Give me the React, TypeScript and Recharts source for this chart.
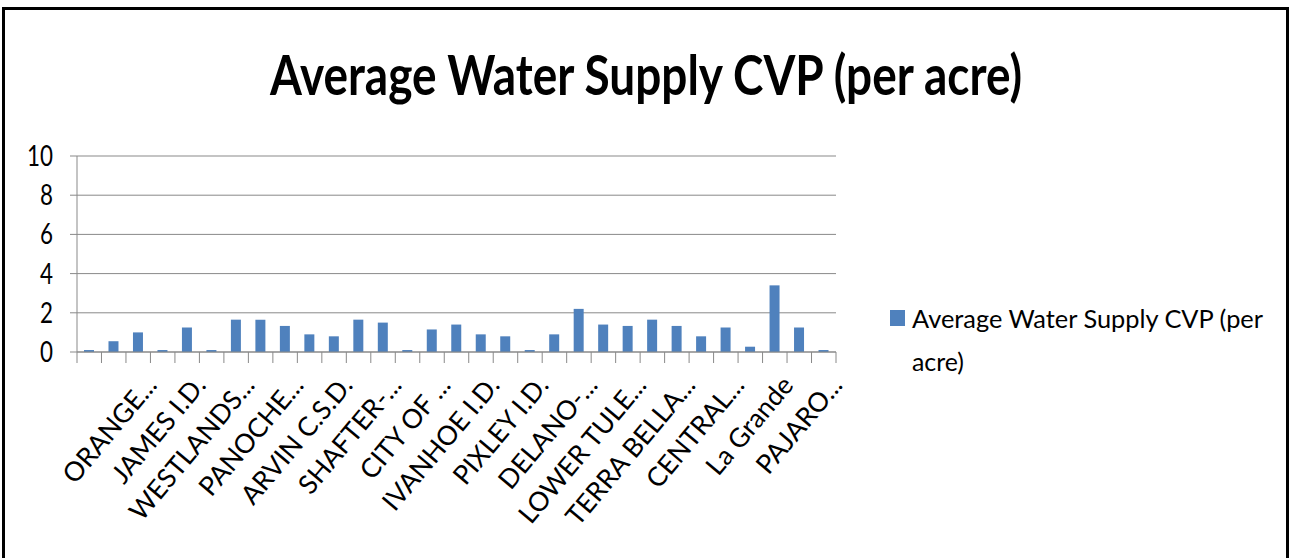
import React from 'react';
import { BarChart, Bar, XAxis, YAxis, CartesianGrid } from 'recharts';

// district labels (only every other category is labelled on the axis)
const districts = [
    '', '', 'ORANGE...', '', 'JAMES I.D.', '', 'WESTLANDS...', '', 'PANOCHE...', '',
    'ARVIN C.S.D.', '', 'SHAFTER-...', '', 'CITY OF ...', '', 'IVANHOE I.D.', '', 'PIXLEY I.D.', '',
    'DELANO-...', '', 'LOWER TULE...', '', 'TERRA BELLA...', '', 'CENTRAL...', '', 'La Grande', '',
    'PAJARO...',
];

const supplyPerAcre = [
    0.1, 0.55, 1.0, 0.1, 1.25, 0.1, 1.65, 1.65, 1.33, 0.9,
    0.8, 1.65, 1.5, 0.1, 1.15, 1.4, 0.9, 0.8, 0.1, 0.9,
    2.2, 1.4, 1.33, 1.65, 1.33, 0.8, 1.25, 0.27, 3.4, 1.25,
    0.1,
];

const yTicks = [0, 2, 4, 6, 8, 10];

const SERIES = 'Average Water Supply CVP (per acre)';
const BAR_COLOR = '#4f81bd';
const GRID = '#898989';

const W = 1291;
const H = 558;
const MARGIN = { top: 156, right: 455, bottom: 56, left: 17 };
const Y_W = 60;
const X_H = 150;
const PLOT_W = W - MARGIN.left - MARGIN.right - Y_W;
const BAND = PLOT_W / districts.length;

const data = districts.map((name, i) => ({ name, value: supplyPerAcre[i] }));

const XTick = (props: any) => {
    const { x, y, payload, index } = props;
    const last = index === districts.length - 1;
    const label = payload.value as string;
    return (
        <g>
            <line x1={x - BAND / 2} x2={x - BAND / 2} y1={y} y2={y + 11} stroke={GRID} />
            {last && <line x1={x + BAND / 2} x2={x + BAND / 2} y1={y} y2={y + 11} stroke={GRID} />}
            {label && (
                <text
                    transform={`translate(${x + 20},${y + 34}) rotate(-50)`}
                    textAnchor="end"
                    fontSize={26.5}
                    fontFamily="Lato, sans-serif"
                    fill="#000"
                >
                    {label}
                </text>
            )}
        </g>
    );
};

const YTick = (props: any) => {
    const { x, y, payload } = props;
    return (
        <text
            transform={`translate(${x},${y + 10}) scale(0.8,1)`}
            textAnchor="end"
            fontSize={28}
            fontFamily="Lato, sans-serif"
            fill="#000"
        >
            {payload.value}
        </text>
    );
};

export default function App() {
    return (
        <div style={{ position: 'absolute', left: 0, top: 0, width: W, height: H, background: '#fff', overflow: 'hidden' }}>
            <div
                style={{
                    position: 'absolute', left: 2, top: 7, width: 1287, height: 600,
                    border: '3px solid #000', boxSizing: 'border-box',
                }}
            />
            <div style={{ position: 'absolute', left: 0, top: 0 }}>
                <BarChart width={W} height={H} data={data} margin={MARGIN}>
                    <CartesianGrid vertical={false} stroke={GRID} />
                    <XAxis
                        dataKey="name"
                        interval={0}
                        height={X_H}
                        tickSize={0}
                        tickMargin={0}
                        tickLine={false}
                        stroke={GRID}
                        tick={<XTick />}
                    />
                    <YAxis
                        width={Y_W}
                        domain={[0, 10]}
                        ticks={yTicks}
                        tickSize={7}
                        tickMargin={17}
                        stroke={GRID}
                        tick={<YTick />}
                    />
                    <Bar dataKey="value" name={SERIES} fill={BAR_COLOR} barSize={10} isAnimationActive={false} />
                </BarChart>
            </div>
            <svg width={W} height={H} style={{ position: 'absolute', left: 0, top: 0, pointerEvents: 'none' }}>
                <text
                    x={646}
                    y={95}
                    textAnchor="middle"
                    fontSize={56}
                    fontWeight={700}
                    fontFamily="Lato, sans-serif"
                    textLength={752}
                    lengthAdjust="spacingAndGlyphs"
                    fill="#000"
                >
                    {SERIES}
                </text>
                <rect x={890} y={310} width={15} height={16} fill={BAR_COLOR} />
                <g fontSize={25} fontFamily="Lato, sans-serif" fill="#000">
                    <text x={912} y={328} textLength={351} lengthAdjust="spacingAndGlyphs">
                        Average Water Supply CVP (per
                    </text>
                    <text x={912} y={371} textLength={52} lengthAdjust="spacingAndGlyphs">
                        acre)
                    </text>
                </g>
            </svg>
        </div>
    );
}
